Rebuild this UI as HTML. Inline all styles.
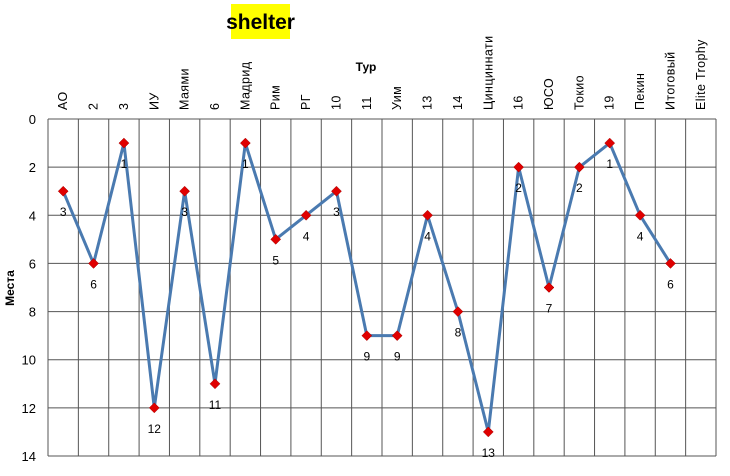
<!DOCTYPE html>
<html><head><meta charset="utf-8"><style>
body{margin:0;background:#fff;}
svg text{font-family:"Liberation Sans",sans-serif;}
</style></head><body>
<svg id="c" width="730" height="471">
<rect x="231" y="4" width="59" height="35" fill="#ffff00"/>
<text x="260.5" y="29" text-anchor="middle" font-size="21" font-weight="bold">shelter</text>
<text x="366" y="71" text-anchor="middle" font-size="12" font-weight="bold">Тур</text>
<text transform="translate(14,288) rotate(-90)" text-anchor="middle" font-size="12" font-weight="bold">Места</text>
<g id="grid"></g><g id="marks"></g>
</svg>
<script>
const categories=["АО","2","3","ИУ","Маями","6","Мадрид","Рим","РГ","10","11","Уим","13","14","Цинциннати","16","ЮСО","Токио","19","Пекин","Итоговый","Elite Trophy"];
const places=[3,6,1,12,3,11,1,5,4,3,9,9,4,8,13,2,7,2,1,4,6,null];
const yTicks=[0,2,4,6,8,10,12,14];
const L=48,R=716,T=119,B=456,ymax=14;
const ns="http://www.w3.org/2000/svg";
const w=(R-L)/categories.length;
const xs=i=>L+(i+0.5)*w;
const ys=v=>T+(B-T)*v/ymax;
const grid=document.getElementById('grid'),marks=document.getElementById('marks');
function mk(t,a,p){const e=document.createElementNS(ns,t);for(const k in a)e.setAttribute(k,a[k]);p.appendChild(e);return e;}
yTicks.forEach(v=>{
 const l=mk('line',{x1:L,x2:R,y1:ys(v),y2:ys(v),stroke:'#555','stroke-width':1},grid);
 
 
 const t=mk('text',{x:36,y:ys(v)+5,'text-anchor':'end','font-size':13},grid);t.textContent=v;
 
 
});
for(let i=0;i<=categories.length;i++){
 const l=mk('line',{x1:L+i*w,x2:L+i*w,y1:T,y2:B,stroke:'#555','stroke-width':1},grid);
 
 
}
categories.forEach((c,i)=>{
 const t=mk('text',{transform:`translate(${xs(i)+4},110) rotate(-90)`,'font-size':12.5,'letter-spacing':0.4},grid);t.textContent=c;
 
 
});
let d='';places.forEach((v,i)=>{if(v!=null)d+=(d?'L':'M')+xs(i)+','+ys(v);});
const p=mk('path',{d:d,fill:'none',stroke:'#4a7ab0','stroke-width':3,'stroke-linejoin':'round'},marks);


places.forEach((v,i)=>{
 if(v==null)return;
 const x=xs(i),y=ys(v);
 const m=mk('polygon',{points:`${x},${y-5} ${x+5},${y} ${x},${y+5} ${x-5},${y}`,fill:'#e00000',stroke:'#a00000','stroke-width':0.5},marks);
 
 
 const t=mk('text',{x:x,y:y+25,'text-anchor':'middle','font-size':12},marks);t.textContent=v;
 
 
});
</script>
</body></html>
